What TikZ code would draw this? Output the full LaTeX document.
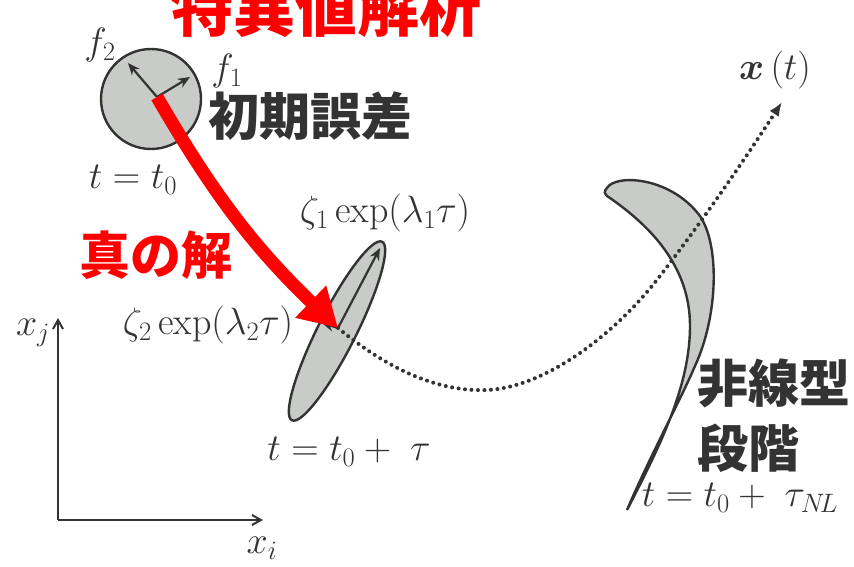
\RequirePackage{fix-cm}
\documentclass[tikz,border=0pt]{standalone}
\usepackage{amsmath,amssymb}
\usepackage{fontspec}
\newfontfamily\cjk{Noto Sans CJK JP}
\usepackage{tikz}
\usetikzlibrary{arrows.meta,calc,positioning,shapes.geometric}
\definecolor{ErrorRed}{HTML}{FF0000}
\definecolor{InkGray}{HTML}{333333}
\definecolor{ShadeGray}{HTML}{C8CBC8}

\begin{document}
\begin{tikzpicture}[x=1pt,y=1pt,
    outline/.style={draw=InkGray,line width=2.4pt,fill=ShadeGray},
    vec/.style={InkGray,line width=2.2pt,-{Stealth[length=12pt,width=10pt]}},
    mathlab/.style={text=InkGray,font=\fontsize{38}{44}\selectfont,inner sep=0pt},
    jplab/.style={text=InkGray,font=\fontsize{51}{65}\selectfont\cjk\bfseries,inner sep=0pt}]
  \useasboundingbox[fill=white] (0,0) rectangle (854,566);
  % initial error ball
  \node[outline,circle,minimum size=100pt,inner sep=0pt] (ball) at (151,467) {};
  \coordinate (o1) at (157,469);
  \coordinate (f1tip) at (190,489);
  \coordinate (f2tip) at (128,503);
  \draw[vec] (o1) -- (f2tip);
  \draw[vec] (o1) -- (f1tip);
  \node[mathlab] (f2lab) at (100,521) {$f_2$};
  \node[mathlab] (f1lab) at (227,495) {$f_1$};
  \node[mathlab] (t0lab) at (133,386) {$t = t_0$};
  % linear stage ellipse
  \node[outline,ellipse,rotate=63.2,minimum width=200pt,minimum height=38pt,inner sep=0pt] (blob) at (337,235) {};
  \coordinate (o2) at (338,238);
  \coordinate (z1tip) at (380,318);
  \coordinate (z2tip) at (322,243);
  \draw[vec] (o2) -- (z1tip);
  \draw[vec] (o2) -- (z2tip);
  \node[mathlab] (z1lab) at (385,353) {$\zeta_1\exp(\lambda_1\tau)$};
  \node[mathlab] (z2lab) at (208,241) {$\zeta_2\exp(\lambda_2\tau)$};
  \node[mathlab] (taulab) at (349,114) {$t = t_0 + \;\tau$};
  % nonlinear stage
  \draw[outline] (607,378) .. controls (615,392) and (670,390) .. (700,350)
    .. controls (720,320) and (718,250) .. (695,200)
    .. controls (680,165) and (650,110) .. (627,56)
    .. controls (660,120) and (690,180) .. (690,240)
    .. controls (690,300) and (650,340) .. (610,368)
    .. controls (603,372) and (604,375) .. (607,378) -- cycle;
  \node[mathlab] (nllab) at (740,68) {$t = t_0 + \;\tau_{N\!L}$};
  % trajectory
  \coordinate (xtip) at (782,464);
  \draw[InkGray,line width=4pt,line cap=round,dash pattern=on 0pt off 6.5pt,
    -{Latex[length=14pt,width=11pt]}] (o2) .. controls (390,195) and (440,174) .. (487,176)
    .. controls (540,178) and (610,225) .. (660,290)
    .. controls (710,355) and (750,415) .. (xtip);
  \node[mathlab] (xlab) at (775,496) {$\boldsymbol{x}\,(t)$};
  % axes
  \coordinate (orig) at (58,46);
  \coordinate (xend) at (263,46);
  \coordinate (yend) at (58,248);
  \draw[InkGray,line width=2pt,-{Straight Barb[length=9pt,width=10pt]}] (orig) -- (xend);
  \draw[InkGray,line width=2pt,-{Straight Barb[length=9pt,width=10pt]}] (orig) -- (yend);
  \node[mathlab] (xjlab) at (33,233) {$x_j$};
  \node[mathlab] (xilab) at (262,18) {$x_i$};
  % red overlay
  \draw[ErrorRed,line width=13pt,-{Triangle[length=38pt,width=42pt]}] (o1) to[bend right=8] (o2);
  \node[jplab,text=ErrorRed,font=\fontsize{62}{70}\selectfont\cjk\bfseries,anchor=base] (title) at (326,534) {特異値解析};
  \node[jplab,text=ErrorRed,anchor=base] (truelab) at (156,292) {真の解};
  \node[jplab,anchor=base] (errlab) at (310,430) {初期誤差};
  \node[jplab,anchor=north west,align=left] (nlstage) at (697,207) {非線型\\段階};
\end{tikzpicture}
\end{document}
